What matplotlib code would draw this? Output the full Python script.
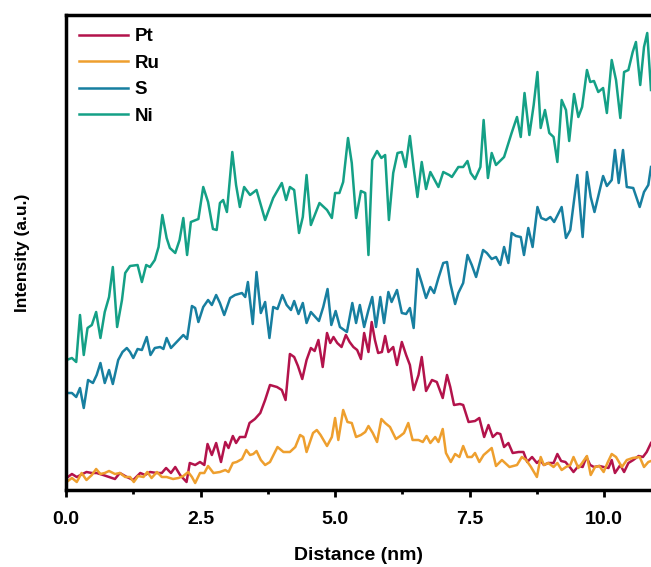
import matplotlib
matplotlib.use('Agg')
import matplotlib.pyplot as plt
from matplotlib.ticker import MultipleLocator

plt.rcParams['font.family'] = ['Liberation Sans', 'DejaVu Sans']
plt.rcParams['font.weight'] = 'bold'

# line profiles (distance in nm, intensity in a.u.)
pt_x = [0.01, 0.11, 0.20, 0.27, 0.38, 0.48, 0.57, 0.69, 0.80, 0.91, 1.00, 1.13, 1.25, 1.38, 1.47,
        1.56, 1.69, 1.78, 1.86, 1.95, 2.03, 2.12, 2.24, 2.30, 2.40, 2.49, 2.57, 2.63, 2.71, 2.79,
        2.88, 2.96, 3.02, 3.10, 3.16, 3.23, 3.33, 3.41, 3.51, 3.61, 3.70, 3.79, 3.92, 4.01, 4.08,
        4.16, 4.24, 4.31, 4.39, 4.47, 4.55, 4.62, 4.69, 4.77, 4.85, 4.91, 4.97, 5.04, 5.12, 5.20,
        5.27, 5.34, 5.41, 5.48, 5.54, 5.62, 5.68, 5.74, 5.80, 5.87, 5.93, 5.99, 6.08, 6.15, 6.24,
        6.32, 6.39, 6.46, 6.55, 6.61, 6.69, 6.80, 6.89, 7.00, 7.08, 7.14, 7.21, 7.32, 7.38, 7.48,
        7.60, 7.68, 7.77, 7.85, 7.93, 8.01, 8.07, 8.14, 8.22, 8.30, 8.41, 8.50, 8.57, 8.66, 8.75,
        8.81, 8.88, 8.96, 9.06, 9.13, 9.20, 9.28, 9.36, 9.43, 9.52, 9.60, 9.67, 9.74, 9.81, 9.91,
        9.99, 10.08, 10.14, 10.20, 10.30, 10.37, 10.45, 10.54, 10.64, 10.72, 10.79, 10.87]
pt_y = [12, 16, 13, 15, 18, 17, 17, 15, 13, 11, 17, 13, 10, 17, 15,
        18, 17, 17, 22, 17, 23, 15, 8, 27, 25, 28, 25, 46, 35, 47,
        28, 48, 42, 54, 47, 53, 53, 67, 71, 77, 90, 105, 103, 100, 90,
        136, 133, 124, 111, 130, 142, 139, 150, 123, 157, 147, 153, 147, 143, 155,
        148, 143, 140, 131, 157, 138, 168, 150, 137, 138, 154, 138, 143, 125, 148,
        135, 125, 100, 115, 133, 99, 110, 108, 92, 115, 103, 85, 86, 85, 68,
        69, 72, 53, 65, 53, 57, 56, 43, 47, 37, 38, 38, 28, 33, 27,
        30, 25, 27, 27, 36, 29, 28, 23, 18, 24, 23, 33, 25, 23, 24,
        23, 22, 30, 17, 25, 18, 27, 30, 34, 33, 38, 47]

ru_x = [0.01, 0.11, 0.20, 0.29, 0.38, 0.48, 0.56, 0.64, 0.72, 0.80, 0.91, 1.00, 1.10, 1.19, 1.26,
        1.34, 1.44, 1.51, 1.59, 1.69, 1.78, 1.87, 1.99, 2.09, 2.18, 2.27, 2.34, 2.40, 2.49, 2.57,
        2.64, 2.74, 2.86, 2.96, 3.02, 3.10, 3.17, 3.27, 3.35, 3.42, 3.48, 3.54, 3.62, 3.70, 3.79,
        3.93, 4.04, 4.16, 4.26, 4.35, 4.41, 4.47, 4.59, 4.66, 4.73, 4.85, 4.94, 5.00, 5.06, 5.15,
        5.23, 5.31, 5.39, 5.48, 5.56, 5.62, 5.70, 5.78, 5.86, 5.93, 6.02, 6.13, 6.21, 6.28, 6.36,
        6.44, 6.55, 6.63, 6.70, 6.77, 6.86, 6.92, 7.00, 7.06, 7.15, 7.23, 7.31, 7.38, 7.46, 7.54,
        7.60, 7.68, 7.76, 7.91, 7.99, 8.10, 8.24, 8.38, 8.47, 8.55, 8.64, 8.75, 8.82, 8.88, 8.96,
        9.06, 9.13, 9.21, 9.29, 9.37, 9.43, 9.52, 9.59, 9.68, 9.75, 9.83, 9.91, 9.99, 10.06, 10.14,
        10.22, 10.33, 10.42, 10.53, 10.66, 10.74, 10.82, 10.87]
ru_y = [8, 12, 8, 17, 10, 15, 21, 16, 17, 19, 16, 17, 13, 13, 8,
        14, 13, 18, 12, 18, 13, 13, 11, 12, 14, 18, 13, 7, 17, 17,
        24, 17, 18, 20, 18, 27, 28, 31, 40, 35, 36, 39, 30, 25, 28,
        43, 38, 38, 43, 55, 53, 38, 57, 60, 55, 44, 53, 72, 50, 80,
        68, 67, 53, 55, 58, 64, 57, 48, 71, 67, 63, 51, 54, 57, 67,
        50, 50, 48, 54, 47, 53, 48, 61, 37, 28, 36, 33, 44, 33, 33,
        37, 28, 35, 42, 24, 30, 23, 25, 33, 30, 23, 13, 33, 25, 27,
        23, 27, 20, 23, 25, 33, 22, 27, 34, 15, 23, 24, 18, 27, 36,
        33, 23, 30, 32, 33, 23, 28, 29]

s_x = [0.01, 0.11, 0.19, 0.26, 0.33, 0.41, 0.50, 0.57, 0.64, 0.72, 0.80, 0.87, 0.97, 1.05, 1.13,
       1.19, 1.25, 1.33, 1.41, 1.50, 1.57, 1.65, 1.75, 1.81, 1.87, 1.95, 2.09, 2.18, 2.25, 2.34,
       2.40, 2.46, 2.55, 2.64, 2.71, 2.79, 2.86, 2.94, 3.05, 3.14, 3.27, 3.33, 3.38, 3.47, 3.54,
       3.62, 3.70, 3.78, 3.85, 3.93, 4.02, 4.10, 4.18, 4.24, 4.32, 4.40, 4.47, 4.55, 4.70, 4.78,
       4.86, 4.93, 5.01, 5.09, 5.22, 5.32, 5.39, 5.46, 5.54, 5.62, 5.69, 5.76, 5.84, 5.91, 5.99,
       6.05, 6.15, 6.24, 6.32, 6.39, 6.46, 6.53, 6.61, 6.69, 6.77, 6.84, 6.92, 7.01, 7.08, 7.14,
       7.23, 7.29, 7.38, 7.46, 7.54, 7.62, 7.75, 7.82, 7.91, 7.99, 8.07, 8.14, 8.22, 8.28, 8.36,
       8.45, 8.51, 8.59, 8.67, 8.76, 8.83, 8.92, 9.00, 9.07, 9.21, 9.29, 9.37, 9.50, 9.60, 9.68,
       9.75, 9.82, 9.98, 10.05, 10.14, 10.20, 10.27, 10.35, 10.42, 10.54, 10.66, 10.74, 10.82, 10.87]
s_y = [97, 97, 93, 102, 82, 110, 107, 115, 127, 107, 120, 106, 130, 138, 142,
       138, 132, 141, 140, 153, 135, 142, 143, 141, 152, 142, 150, 155, 151, 184,
       182, 168, 183, 190, 185, 195, 187, 175, 192, 195, 197, 193, 208, 166, 218,
       177, 188, 152, 183, 181, 195, 185, 180, 189, 176, 187, 167, 178, 169, 183,
       201, 165, 179, 163, 158, 187, 167, 185, 163, 180, 193, 163, 193, 167, 198,
       188, 200, 177, 176, 182, 162, 221, 207, 192, 203, 197, 212, 227, 228, 207,
       186, 197, 207, 235, 225, 213, 240, 237, 231, 233, 225, 243, 227, 257, 254,
       253, 235, 262, 243, 283, 272, 270, 273, 268, 283, 252, 260, 315, 253, 318,
       293, 278, 314, 304, 310, 340, 307, 340, 303, 302, 283, 298, 305, 323]

ni_x = [0.01, 0.11, 0.19, 0.26, 0.33, 0.40, 0.48, 0.56, 0.64, 0.72, 0.80, 0.87, 0.95, 1.04, 1.10,
        1.19, 1.33, 1.41, 1.49, 1.56, 1.65, 1.72, 1.79, 1.87, 1.93, 2.03, 2.11, 2.18, 2.25, 2.32,
        2.46, 2.55, 2.64, 2.73, 2.80, 2.86, 2.92, 2.99, 3.09, 3.16, 3.23, 3.31, 3.42, 3.54, 3.70,
        3.85, 4.01, 4.09, 4.16, 4.24, 4.33, 4.40, 4.47, 4.55, 4.71, 4.85, 4.94, 5.00, 5.08, 5.15,
        5.24, 5.31, 5.39, 5.48, 5.56, 5.62, 5.69, 5.78, 5.86, 5.93, 6.00, 6.08, 6.16, 6.24, 6.31,
        6.39, 6.46, 6.53, 6.61, 6.69, 6.77, 6.92, 7.01, 7.12, 7.17, 7.29, 7.38, 7.46, 7.52, 7.60,
        7.70, 7.76, 7.84, 7.91, 7.99, 8.14, 8.28, 8.38, 8.45, 8.52, 8.61, 8.69, 8.76, 8.82, 8.90,
        8.98, 9.06, 9.13, 9.21, 9.29, 9.35, 9.44, 9.52, 9.59, 9.68, 9.74, 9.81, 9.89, 9.98, 10.05,
        10.14, 10.22, 10.30, 10.37, 10.45, 10.53, 10.59, 10.67, 10.74, 10.80, 10.87]
ni_y = [130, 132, 128, 175, 135, 162, 165, 178, 152, 178, 193, 223, 163, 190, 217,
        224, 225, 208, 225, 223, 230, 243, 275, 252, 242, 237, 250, 272, 235, 268,
        271, 303, 288, 261, 260, 287, 290, 278, 338, 305, 283, 303, 295, 300, 270,
        292, 307, 290, 303, 300, 257, 273, 315, 265, 287, 280, 272, 297, 297, 308,
        352, 327, 272, 299, 297, 235, 330, 339, 332, 335, 270, 317, 337, 338, 323,
        354, 322, 293, 328, 301, 318, 303, 318, 315, 313, 323, 323, 329, 317, 311,
        323, 370, 312, 337, 325, 333, 357, 373, 353, 397, 355, 385, 418, 362, 380,
        357, 353, 328, 390, 380, 349, 396, 373, 383, 420, 408, 409, 398, 402, 377,
        430, 410, 372, 418, 420, 438, 448, 405, 443, 457, 400]

names = ['Pt', 'Ru', 'S', 'Ni']
colors = ['#B3134B', '#EE9F2E', '#177FA0', '#14A086']

fig = plt.figure(figsize=(6.51, 5.67), dpi=100)
ax = fig.add_axes([66 / 651, 77 / 567, 585 / 651, 475 / 567])

for xs, ys, name, c in zip([pt_x, ru_x, s_x, ni_x], [pt_y, ru_y, s_y, ni_y], names, colors):
    ax.plot(xs, ys, color=c, lw=1.8, label=name)

ax.set_xlim(0, 10.87)
ax.set_ylim(0, 475)
ax.xaxis.set_major_locator(MultipleLocator(2.5))
ax.xaxis.set_minor_locator(MultipleLocator(1.25))
ax.set_yticks([])
ax.tick_params(axis='x', which='major', direction='out', length=5, width=2, labelsize=14, pad=10)
ax.tick_params(axis='x', which='minor', direction='out', length=3, width=2)
for lab in ax.get_xticklabels():
    lab.set_fontweight('bold')
for side in ['left', 'bottom', 'top']:
    ax.spines[side].set_linewidth(2.5)
ax.spines['right'].set_visible(False)

ax.set_xlabel('Distance (nm)', fontsize=14, fontweight='bold', labelpad=14)
ax.set_ylabel('Intensity (a.u.)', fontsize=12.5, fontweight='bold', labelpad=26)

ax.legend(loc='upper left', frameon=False, handlelength=2.6,
          handletextpad=0.35, labelspacing=0.5, borderaxespad=0.3,
          prop={'weight': 'bold', 'size': 13.5})

fig.savefig('out.png', dpi=100)
